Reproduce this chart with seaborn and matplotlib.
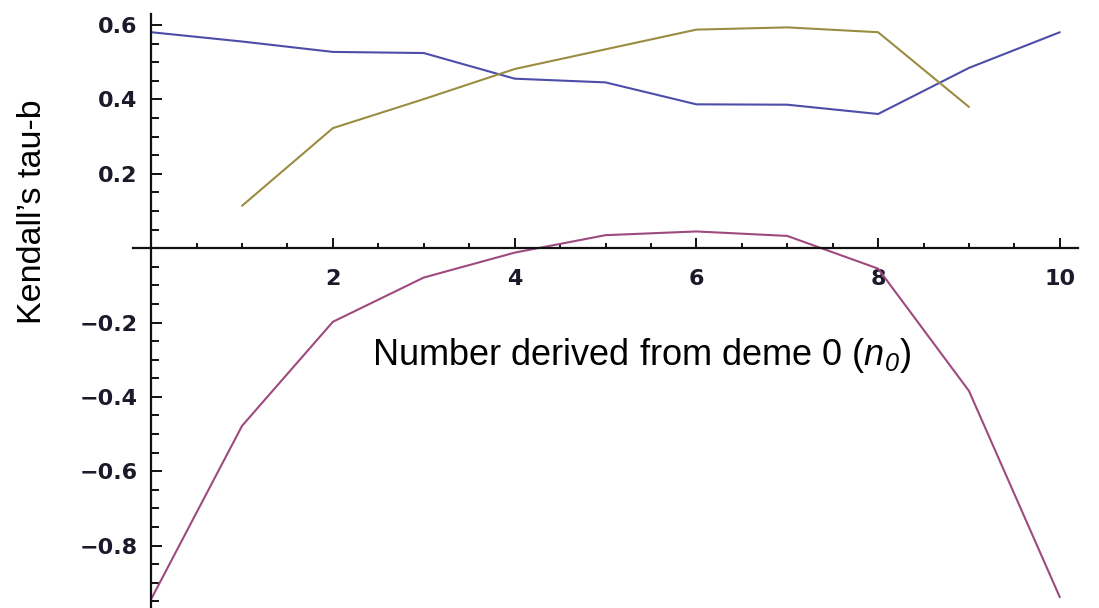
import numpy as np
import pandas as pd
import seaborn as sns
import matplotlib.pyplot as plt
from matplotlib.ticker import FixedLocator, MultipleLocator

# values
n0 = [0, 1, 2, 3, 4, 5, 6, 7, 8, 9, 10]
tau_blue = [0.581, 0.556, 0.528, 0.525, 0.456, 0.446, 0.387, 0.386, 0.361, 0.485, 0.581]
tau_olive = [np.nan, 0.114, 0.323, 0.401, 0.482, 0.535, 0.588, 0.594, 0.581, 0.380, np.nan]
tau_magenta = [-0.944, -0.478, -0.198, -0.079, -0.012, 0.035, 0.045, 0.033, -0.055, -0.384, -0.939]

x_ticks = [2, 4, 6, 8, 10]
y_ticks = [-0.8, -0.6, -0.4, -0.2, 0.2, 0.4, 0.6]

sns.set_style('white')
plt.rcParams['font.family'] = ['Liberation Sans', 'DejaVu Sans']
# math part (n_0) fully italic, digits included
plt.rcParams['mathtext.fontset'] = 'custom'
plt.rcParams['mathtext.rm'] = 'Liberation Sans:italic'
plt.rcParams['mathtext.it'] = 'Liberation Sans:italic'

df = pd.DataFrame({'n0': n0, 'blue': tau_blue, 'olive': tau_olive, 'magenta': tau_magenta})

fig = plt.figure(figsize=(10.99, 6.08), dpi=100)
ax = fig.add_axes([133 / 1099, 0, 945 / 1099, 594 / 608])

sns.lineplot(data=df, x='n0', y='blue', color='#4d4daa', linewidth=1.5, ax=ax)
sns.lineplot(data=df.dropna(), x='n0', y='olive', color='#9a8d42', linewidth=1.5, ax=ax)
sns.lineplot(data=df, x='n0', y='magenta', color='#9e4a7e', linewidth=1.5, ax=ax)

ax.set_xlim(-0.2, 10.2)
ax.set_ylim(-0.968, 0.63)

# Mathematica-style axes crossing at the origin
ax.spines['left'].set_position(('data', 0))
ax.spines['bottom'].set_position(('data', 0))
ax.spines['right'].set_visible(False)
ax.spines['top'].set_visible(False)
for s in ['left', 'bottom']:
    ax.spines[s].set_linewidth(1.6)
    ax.spines[s].set_color('#111111')

ax.xaxis.set_major_locator(FixedLocator(x_ticks))
ax.xaxis.set_minor_locator(MultipleLocator(0.5))
ax.yaxis.set_major_locator(FixedLocator(y_ticks))
ax.yaxis.set_minor_locator(MultipleLocator(0.05))
ax.set_yticklabels(['\u22120.8', '\u22120.6', '\u22120.4', '\u22120.2', '0.2', '0.4', '0.6'])

ax.tick_params(which='both', direction='in', bottom=True, left=True, color='#111111', width=1.4,
               labelsize=16, labelcolor='#1a1a2a', labelfontfamily='DejaVu Sans')
ax.tick_params(axis='x', which='major', length=7.5, pad=15)
ax.tick_params(axis='x', which='minor', length=3.5)
ax.tick_params(axis='y', which='major', length=8, pad=10)
ax.tick_params(axis='y', which='minor', length=5.5)
for lab in ax.get_xticklabels() + ax.get_yticklabels():
    lab.set_fontweight('bold')
ax.set_xlabel('')
ax.set_ylabel('')

fig.text(372 / 1099, 1 - 365 / 608, 'Number derived from deme 0 ($\\mathrm{n_{0}}$)',
         fontsize=26, color='black', ha='left', va='baseline')
fig.text(33 / 1099, 1 - 212 / 608, 'Kendall\u2019s tau-b', fontsize=24.5, color='black',
         rotation=90, ha='center', va='center')

fig.savefig('out.png', dpi=100)
